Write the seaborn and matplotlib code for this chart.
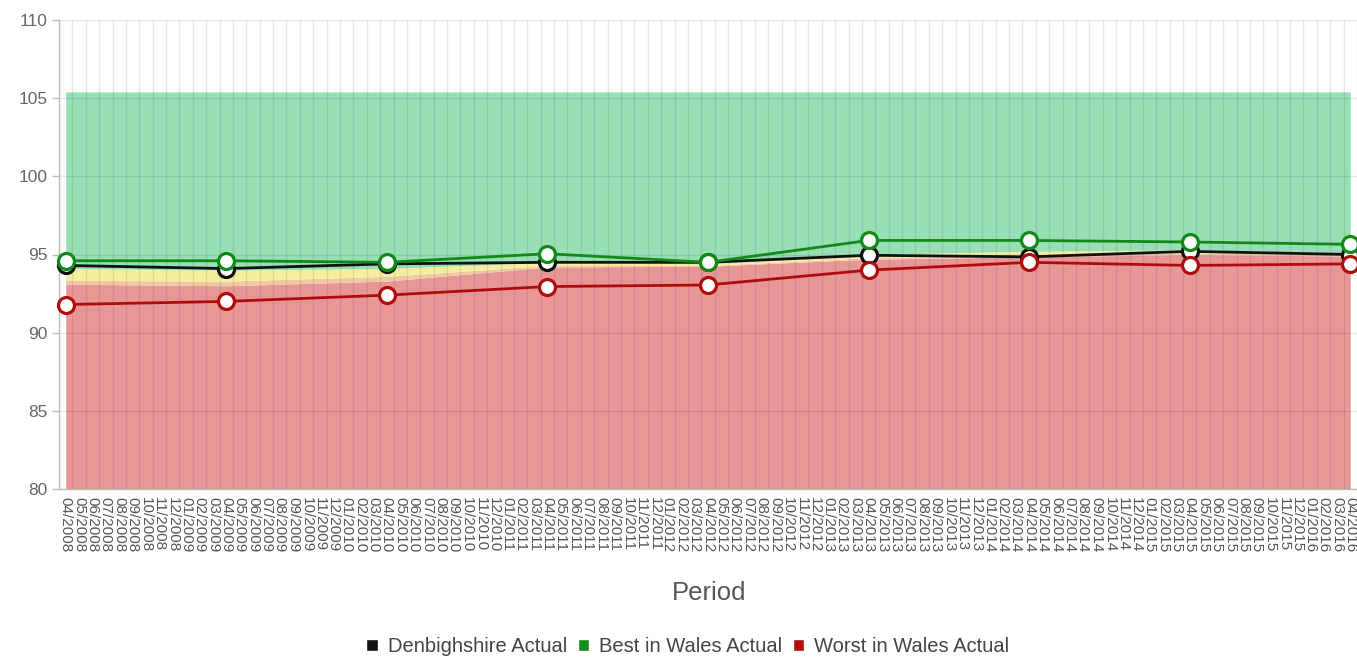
import matplotlib
matplotlib.use("Agg")
import matplotlib.pyplot as plt
from matplotlib.patches import Patch
import seaborn as sns
import pandas as pd
import numpy as np

# ---- data ----
months = list(pd.date_range("2008-04-01", "2016-04-01", freq="MS").strftime("%m/%Y"))
points = ["04/2008", "04/2009", "04/2010", "04/2011", "04/2012",
          "04/2013", "04/2014", "04/2015", "04/2016"]
denbighshire = [94.3, 94.1, 94.4, 94.5, 94.5, 94.95, 94.85, 95.2, 95.0]
best_wales = [94.6, 94.6, 94.5, 95.05, 94.5, 95.9, 95.9, 95.8, 95.65]
worst_wales = [91.8, 92.0, 92.4, 92.95, 93.05, 94.0, 94.5, 94.3, 94.4]
band_red_top = [93.1, 93.0, 93.3, 94.2, 94.25, 94.7, 94.85, 95.0, 94.9]
band_amber_top = [93.35, 93.3, 93.6, 94.3, 94.3, 94.8, 94.95, 95.1, 95.0]
band_yellow_top = [94.1, 94.0, 94.1, 94.5, 94.4, 95.0, 95.2, 95.3, 95.1]
band_green_top = [105.4] * 9
y_ticks = [80, 85, 90, 95, 100, 105, 110]
series_names = ["Denbighshire Actual", "Best in Wales Actual", "Worst in Wales Actual"]

# ---- style ----
sns.set_theme(style="white")
plt.rcParams["font.family"] = ["Liberation Sans", "DejaVu Sans"]

fig = plt.figure(figsize=(13.57, 6.57), dpi=100)
W, H = 1357, 657
ax = fig.add_axes([59 / W, 1 - 489 / H, (W - 59) / W, (489 - 20) / H])

xp = [months.index(p) for p in points]

floor = [80] * 9
ax.fill_between(xp, floor, band_red_top, color="#e89797", lw=0, zorder=1)
ax.fill_between(xp, band_red_top, band_amber_top, color="#f1c8a2", lw=0, zorder=1)
ax.fill_between(xp, band_amber_top, band_yellow_top, color="#f6ee9c", lw=0, zorder=1)
ax.fill_between(xp, band_yellow_top, band_green_top, color="#98dfb6", lw=0, zorder=1)

df = pd.DataFrame({"x": xp, "Denbighshire": denbighshire,
                   "Best": best_wales, "Worst": worst_wales})
colors = {"Denbighshire": "#111111", "Best": "#128a17", "Worst": "#b00c0c"}
for col in ["Denbighshire", "Best", "Worst"]:
    sns.lineplot(data=df, x="x", y=col, ax=ax, color=colors[col], linewidth=2.0,
                 marker="o", markersize=11.5, markerfacecolor="white",
                 markeredgecolor=colors[col], markeredgewidth=2.3,
                 clip_on=False, zorder=3)

ax.set_xlim(-0.37, len(months) - 1 + 0.35)
ax.set_ylim(80, 110)
ax.set_yticks(y_ticks)
ax.set_yticklabels([str(v) for v in y_ticks], fontsize=12.5, color="#666666")

ax.set_xticks(range(len(months)))
ax.set_xticklabels(months, rotation=-90, fontsize=11, color="#555555")
ax.set_xticks(np.arange(len(months) + 1) - 0.5, minor=True)
ax.tick_params(axis="x", which="major", length=0, pad=6)
ax.tick_params(axis="x", which="minor", length=5, color="#bbbbbb", width=1)
ax.tick_params(axis="y", which="major", length=5, color="#bbbbbb", width=1, pad=3, left=True)

ax.set_axisbelow("line")
ax.grid(axis="x", which="minor", color="black", alpha=0.09, linewidth=1)
ax.grid(axis="y", which="major", color="black", alpha=0.09, linewidth=1)
ax.grid(axis="x", which="major", visible=False)

for s in ["top", "right"]:
    ax.spines[s].set_visible(False)
for s in ["left", "bottom"]:
    ax.spines[s].set_color("#bbbbbb")
    ax.spines[s].set_linewidth(1)

ax.set_xlabel("")
ax.set_ylabel("")
fig.text(709 / W, 1 - 593 / H, "Period", ha="center", va="center",
         fontsize=18.5, color="#555555")

handles = [Patch(facecolor=colors[c], edgecolor="white") for c in ["Denbighshire", "Best", "Worst"]]
fig.legend(handles, series_names, loc="center", bbox_to_anchor=(688 / W, 1 - 647 / H),
           ncol=3, frameon=False, fontsize=14.5, handlelength=0.55, handleheight=0.55,
           handletextpad=0.5, columnspacing=0.55, labelcolor="#444444")

fig.savefig("out.png", dpi=100)
